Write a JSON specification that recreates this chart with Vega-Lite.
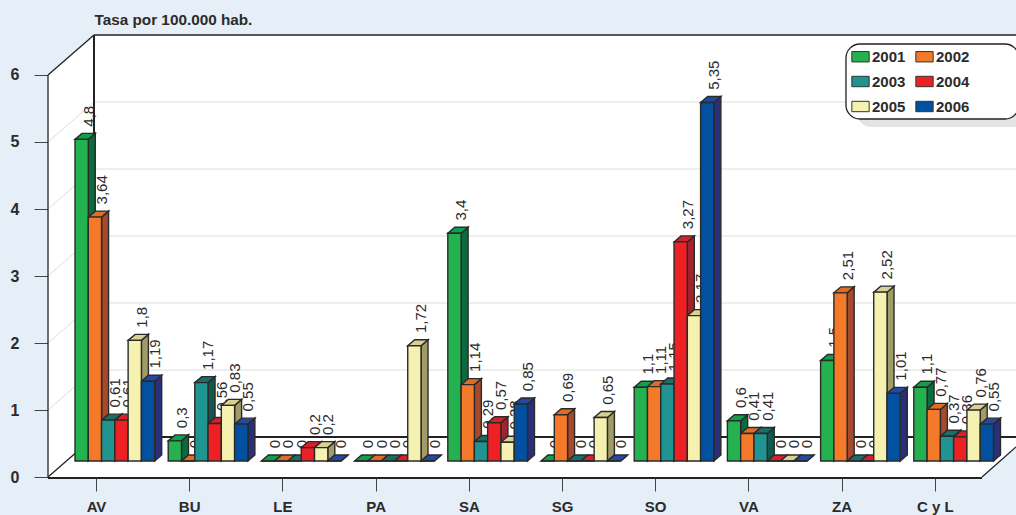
{
  "$schema": "https://vega.github.io/schema/vega-lite/v6.json",
  "width": 1016,
  "height": 515,
  "padding": 0,
  "autosize": "none",
  "background": "#E6EEF8",
  "config": {"view": {"stroke": null}, "font": "Liberation Sans"},
  "datasets": {
    "rates": [
      {"region":"AV","year":2001,"value":4.8},{"region":"AV","year":2002,"value":3.64},{"region":"AV","year":2003,"value":0.61},{"region":"AV","year":2004,"value":0.61},{"region":"AV","year":2005,"value":1.8},{"region":"AV","year":2006,"value":1.19},
      {"region":"BU","year":2001,"value":0.3},{"region":"BU","year":2002,"value":0},{"region":"BU","year":2003,"value":1.17},{"region":"BU","year":2004,"value":0.56},{"region":"BU","year":2005,"value":0.83},{"region":"BU","year":2006,"value":0.55},
      {"region":"LE","year":2001,"value":0},{"region":"LE","year":2002,"value":0},{"region":"LE","year":2003,"value":0},{"region":"LE","year":2004,"value":0.2},{"region":"LE","year":2005,"value":0.2},{"region":"LE","year":2006,"value":0},
      {"region":"PA","year":2001,"value":0},{"region":"PA","year":2002,"value":0},{"region":"PA","year":2003,"value":0},{"region":"PA","year":2004,"value":0},{"region":"PA","year":2005,"value":1.72},{"region":"PA","year":2006,"value":0},
      {"region":"SA","year":2001,"value":3.4},{"region":"SA","year":2002,"value":1.14},{"region":"SA","year":2003,"value":0.29},{"region":"SA","year":2004,"value":0.57},{"region":"SA","year":2005,"value":0.28},{"region":"SA","year":2006,"value":0.85},
      {"region":"SG","year":2001,"value":0},{"region":"SG","year":2002,"value":0.69},{"region":"SG","year":2003,"value":0},{"region":"SG","year":2004,"value":0},{"region":"SG","year":2005,"value":0.65},{"region":"SG","year":2006,"value":0},
      {"region":"SO","year":2001,"value":1.1},{"region":"SO","year":2002,"value":1.11},{"region":"SO","year":2003,"value":1.15},{"region":"SO","year":2004,"value":3.27},{"region":"SO","year":2005,"value":2.17},{"region":"SO","year":2006,"value":5.35},
      {"region":"VA","year":2001,"value":0.6},{"region":"VA","year":2002,"value":0.41},{"region":"VA","year":2003,"value":0.41},{"region":"VA","year":2004,"value":0},{"region":"VA","year":2005,"value":0},{"region":"VA","year":2006,"value":0},
      {"region":"ZA","year":2001,"value":1.5},{"region":"ZA","year":2002,"value":2.51},{"region":"ZA","year":2003,"value":0},{"region":"ZA","year":2004,"value":0},{"region":"ZA","year":2005,"value":2.52},{"region":"ZA","year":2006,"value":1.01},
      {"region":"C y L","year":2001,"value":1.1},{"region":"C y L","year":2002,"value":0.77},{"region":"C y L","year":2003,"value":0.37},{"region":"C y L","year":2004,"value":0.36},{"region":"C y L","year":2005,"value":0.76},{"region":"C y L","year":2006,"value":0.55}
    ],
    "surfaces": [
      {"surface":"left wall","c":-0.515,"low":0,"high":6},
      {"surface":"left wall","c":-0.02146,"low":0.597,"high":6.597},
      {"surface":"back wall","c":-0.02146,"low":0.597,"high":6.597},
      {"surface":"back wall","c":9.87124,"low":0.597,"high":6.597},
      {"surface":"floor","c":-0.515,"low":0,"high":0},
      {"surface":"floor","c":-0.02146,"low":0,"high":0.597},
      {"surface":"floor","c":9.50644,"low":0,"high":0.597},
      {"surface":"floor","c":9.87124,"low":0.4478,"high":0.597}
    ],
    "lightEdges": [
      {"c1":-0.515,"v1":0,"c2":-0.02146,"v2":0.597},
      {"c1":-0.515,"v1":6,"c2":-0.02146,"v2":6.597},
      {"c1":-0.515,"v1":0,"c2":-0.515,"v2":6},
      {"c1":-0.02146,"v1":6.597,"c2":9.87124,"v2":6.597},
      {"c1":9.50644,"v1":0,"c2":9.87124,"v2":0.4478}
    ],
    "heavyEdges": [
      {"c1":-0.02146,"v1":0.597,"c2":9.87124,"v2":0.597},
      {"c1":-0.515,"v1":-0.015,"c2":9.50644,"v2":-0.015},
      {"c1":-0.02146,"v1":0.597,"c2":-0.02146,"v2":6.597}
    ],
    "levels": [{"level":1},{"level":2},{"level":3},{"level":4},{"level":5}],
    "legendPanel": [{"c1":8.047,"c2":9.903,"v1":6.4627,"v2":5.3433}],
    "legendShadow": [{"c1":8.165,"c2":10.05,"v1":6.343,"v2":5.224}]
  },
  "data": {"name": "rates"},
  "transform": [
    {"calculate": "indexof(['AV','BU','LE','PA','SA','SG','SO','VA','ZA','C y L'], datum.region)", "as": "slot"},
    {"calculate": "datum.region + datum.year", "as": "bar"},
    {"calculate": "datum.slot - 0.2253 + 0.1425 * (datum.year - 2001)", "as": "left"},
    {"calculate": "datum.left + 0.1425", "as": "right"},
    {"calculate": "datum.left + 0.0751", "as": "leftBack"},
    {"calculate": "datum.right + 0.0751", "as": "rightBack"},
    {"calculate": "0.2388", "as": "base"},
    {"calculate": "datum.base + datum.value", "as": "top"},
    {"calculate": "datum.top + 0.0896", "as": "topBack"},
    {"calculate": "replace('' + datum.value, '.', ',')", "as": "label"},
    {"calculate": "datum.left + 0.0712 + 0.0751", "as": "labelAt"},
    {"calculate": "datum.topBack + 0.1", "as": "labelFoot"}
  ],
  "layer": [
    {
      "data": {"name": "surfaces"},
      "mark": {"type": "area", "fill": "#FFFFFF", "stroke": null},
      "encoding": {
        "x": {
          "field": "c", "type": "quantitative",
          "scale": {"domain": [-1.03004, 9.87124], "nice": false, "zero": false},
          "axis": {
            "orient": "bottom", "offset": -37, "values": [0,1,2,3,4,5,6,7,8,9],
            "labelExpr": "['AV','BU','LE','PA','SA','SG','SO','VA','ZA','C y L'][datum.value]",
            "grid": false, "domain": false, "tickSize": 13, "tickColor": "#444444", "tickWidth": 1,
            "labelFont": "Liberation Sans", "labelFontWeight": "bold", "labelFontSize": 15,
            "labelColor": "#2B2B2B", "labelPadding": 8, "labelOverlap": false, "title": null
          }
        },
        "y": {
          "field": "high", "type": "quantitative", "stack": null,
          "scale": {"domain": [-0.56716, 7.1194], "nice": false, "zero": false},
          "axis": {
            "orient": "left", "offset": -48, "values": [0,1,2,3,4,5,6], "format": "d",
            "grid": false, "domain": false, "tickSize": 14, "tickColor": "#444444", "tickWidth": 1,
            "labelFont": "Liberation Sans", "labelFontWeight": "bold", "labelFontSize": 16,
            "labelColor": "#2B2B2B", "labelPadding": 15,
            "title": "Tasa por 100.000 hab.", "titleFont": "Liberation Sans", "titleFontWeight": "bold",
            "titleFontSize": 15.3, "titleColor": "#2B2B2B", "titleAngle": 0, "titleAlign": "left",
            "titleBaseline": "middle", "titleX": 46, "titleY": 19
          }
        },
        "y2": {"field": "low"},
        "detail": {"field": "surface"}
      }
    },
    {
      "data": {"name": "levels"},
      "transform": [
        {"calculate": "datum.level + 0.597", "as": "backLevel"},
        {"calculate": "-0.02146", "as": "c1"},
        {"calculate": "9.87124", "as": "c2"}
      ],
      "mark": {"type": "rule", "stroke": "#DDDDDD", "strokeWidth": 1},
      "encoding": {
        "x": {"field": "c1", "type": "quantitative"},
        "x2": {"field": "c2"},
        "y": {"field": "backLevel", "type": "quantitative"}
      }
    },
    {
      "data": {"name": "levels"},
      "transform": [
        {"calculate": "datum.level + 0.597", "as": "backLevel"},
        {"calculate": "-0.515", "as": "c1"},
        {"calculate": "-0.02146", "as": "c2"}
      ],
      "mark": {"type": "rule", "stroke": "#DDDDDD", "strokeWidth": 1},
      "encoding": {
        "x": {"field": "c1", "type": "quantitative"},
        "x2": {"field": "c2"},
        "y": {"field": "level", "type": "quantitative"},
        "y2": {"field": "backLevel"}
      }
    },
    {
      "data": {"name": "lightEdges"},
      "mark": {"type": "rule", "stroke": "#222222", "strokeWidth": 1.3},
      "encoding": {
        "x": {"field": "c1", "type": "quantitative"},
        "x2": {"field": "c2"},
        "y": {"field": "v1", "type": "quantitative"},
        "y2": {"field": "v2"}
      }
    },
    {
      "data": {"name": "heavyEdges"},
      "mark": {"type": "rule", "stroke": "#222222", "strokeWidth": 2},
      "encoding": {
        "x": {"field": "c1", "type": "quantitative"},
        "x2": {"field": "c2"},
        "y": {"field": "v1", "type": "quantitative"},
        "y2": {"field": "v2"}
      }
    },
    {
      "data": {"name": "legendShadow"},
      "mark": {"type": "rect", "fill": "#E4E4E4", "cornerRadius": 14},
      "encoding": {
        "x": {"field": "c1", "type": "quantitative"},
        "x2": {"field": "c2"},
        "y": {"field": "v1", "type": "quantitative"},
        "y2": {"field": "v2"}
      }
    },
    {
      "data": {"name": "legendPanel"},
      "mark": {"type": "rect", "fill": "#FFFFFF", "stroke": "#222222", "strokeWidth": 1.3, "cornerRadius": 14},
      "encoding": {
        "x": {"field": "c1", "type": "quantitative"},
        "x2": {"field": "c2"},
        "y": {"field": "v1", "type": "quantitative"},
        "y2": {"field": "v2"}
      }
    },
    {
      "mark": {"type": "text", "angle": 270, "align": "left", "baseline": "middle", "font": "Liberation Sans", "fontSize": 15, "fill": "#2B2B2B"},
      "encoding": {
        "x": {"field": "labelAt", "type": "quantitative"},
        "y": {"field": "labelFoot", "type": "quantitative"},
        "text": {"field": "label"}
      }
    },
    {
      "transform": [
        {"fold": ["right", "rightBack"], "as": ["edge", "cx"]},
        {"calculate": "datum.edge === 'right' ? datum.top : datum.topBack", "as": "hi"},
        {"calculate": "datum.edge === 'right' ? datum.base : datum.base + 0.0896", "as": "lo"}
      ],
      "mark": {"type": "area", "stroke": "#2A2A2A", "strokeWidth": 1.4},
      "encoding": {
        "x": {"field": "cx", "type": "quantitative"},
        "y": {"field": "hi", "type": "quantitative", "stack": null},
        "y2": {"field": "lo"},
        "detail": {"field": "bar"},
        "fill": {
          "field": "year", "type": "nominal", "legend": null,
          "scale": {"domain": [2001,2002,2003,2004,2005,2006], "range": ["#0B6B3F","#A64A2D","#14574F","#A3222E","#A19C66","#2A2F7C"]}
        }
      }
    },
    {
      "transform": [
        {"fold": ["left", "leftBack", "right", "rightBack"], "as": ["edge", "cx"]},
        {"calculate": "datum.edge === 'left' ? datum.top : datum.topBack", "as": "hi"},
        {"calculate": "datum.edge === 'rightBack' ? datum.topBack : datum.top", "as": "lo"}
      ],
      "mark": {"type": "area", "stroke": "#2A2A2A", "strokeWidth": 1.4},
      "encoding": {
        "x": {"field": "cx", "type": "quantitative"},
        "y": {"field": "hi", "type": "quantitative", "stack": null},
        "y2": {"field": "lo"},
        "detail": {"field": "bar"},
        "fill": {
          "field": "year", "type": "nominal", "legend": null,
          "scale": {"domain": [2001,2002,2003,2004,2005,2006], "range": ["#0FA04B","#DE6E27","#1A6E68","#D6202C","#D9D092","#2349A0"]}
        }
      }
    },
    {
      "mark": {"type": "rect", "stroke": "#2A2A2A", "strokeWidth": 1.4},
      "encoding": {
        "x": {"field": "left", "type": "quantitative"},
        "x2": {"field": "right"},
        "y": {"field": "top", "type": "quantitative"},
        "y2": {"field": "base"},
        "fill": {
          "field": "year", "type": "nominal", "title": null,
          "scale": {"domain": [2001,2002,2003,2004,2005,2006], "range": ["#23B24F","#F47A2A","#1F9490","#ED2024","#F5F1B0","#0250A0"]},
          "legend": {
            "orient": "none", "legendX": 851, "legendY": 47, "columns": 2, "direction": "horizontal", "padding": 0,
            "rowPadding": 7, "columnPadding": 7, "symbolType": "M-1,-0.6H1V0.6H-1Z", "symbolSize": 300,
            "symbolStrokeColor": "#333333", "symbolStrokeWidth": 1, "symbolOpacity": 1,
            "labelFont": "Liberation Sans", "labelFontWeight": "bold", "labelFontSize": 15, "labelColor": "#2B2B2B",
            "labelOffset": 2, "title": null
          }
        }
      }
    }
  ],
  "resolve": {"scale": {"fill": "independent"}}
}
